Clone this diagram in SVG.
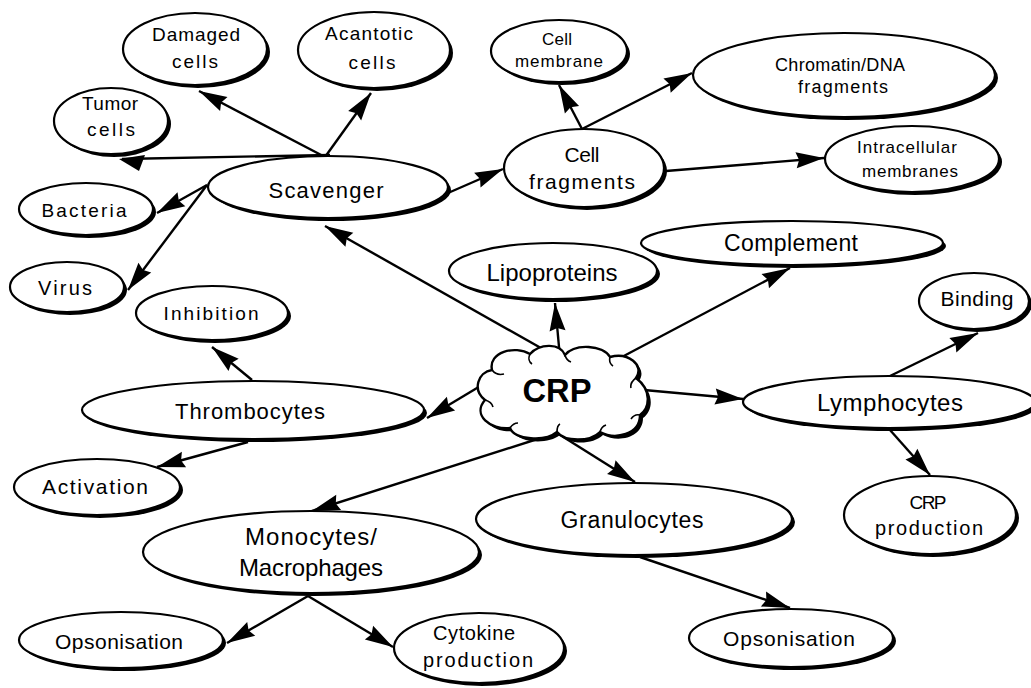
<svg xmlns="http://www.w3.org/2000/svg" width="1031" height="688" viewBox="0 0 1031 688">
<style>
.sh{fill:#000;stroke:none}
.nd{fill:#fff;stroke:#000;stroke-width:2.2}
.t{font-family:"Liberation Sans",Arial,Helvetica,sans-serif;fill:#000;text-anchor:middle}
.c{stroke:#000;stroke-width:2.4;fill:none;marker-end:url(#ah)}
.l{stroke:#000;stroke-width:2.4;fill:none}
</style>
<defs>
<marker id="ah" markerUnits="userSpaceOnUse" markerWidth="30" markerHeight="18" refX="28" refY="8" orient="auto" overflow="visible">
<path d="M0,0 L28,8 L0,16 L3,8 z" fill="#000"/>
</marker>
</defs>
<rect width="1031" height="688" fill="#fff"/>
<g id="connectors">
<line class="c" x1="325" y1="157" x2="199" y2="91"/>
<line class="c" x1="325" y1="157" x2="371" y2="93"/>
<line class="l" x1="330" y1="155" x2="122" y2="159"/>
<polygon points="119,159 145,155 139,171" fill="#000"/>
<line class="c" x1="207" y1="185" x2="157" y2="213"/>
<line class="c" x1="207" y1="185" x2="128" y2="290"/>
<line class="c" x1="448" y1="193" x2="503" y2="169"/>
<line class="c" x1="548" y1="352" x2="325" y2="226"/>
<line class="c" x1="560" y1="358" x2="555" y2="303"/>
<line class="c" x1="620" y1="358" x2="790" y2="268"/>
<line class="c" x1="582" y1="129" x2="559" y2="85"/>
<line class="c" x1="582" y1="129" x2="692" y2="73"/>
<line class="c" x1="666" y1="171" x2="824" y2="158"/>
<line class="c" x1="644" y1="390" x2="743" y2="399"/>
<line class="c" x1="890" y1="376" x2="978" y2="333"/>
<line class="c" x1="890" y1="430" x2="930" y2="475"/>
<line class="c" x1="482" y1="385" x2="427" y2="418"/>
<line class="c" x1="252" y1="380" x2="212" y2="347"/>
<line class="c" x1="248" y1="442" x2="157" y2="467"/>
<line class="c" x1="550" y1="435" x2="312" y2="511"/>
<line class="c" x1="557" y1="433" x2="635" y2="482"/>
<line class="c" x1="308" y1="596" x2="227" y2="643"/>
<line class="c" x1="308" y1="596" x2="393" y2="647"/>
<line class="c" x1="640" y1="557" x2="790" y2="608"/>
</g>
<g id="damaged"><ellipse class="sh" cx="198" cy="52" rx="72" ry="36"/><ellipse class="nd" cx="195" cy="49" rx="72" ry="36"/>
<text class="t" x="196" y="41" font-size="19" textLength="88" lengthAdjust="spacing">Damaged</text>
<text class="t" x="195" y="68" font-size="19" textLength="46" lengthAdjust="spacing">cells</text></g>
<g id="acantotic"><ellipse class="sh" cx="377" cy="53" rx="76" ry="38"/><ellipse class="nd" cx="374" cy="50" rx="76" ry="38"/>
<text class="t" x="369" y="40" font-size="19" textLength="88" lengthAdjust="spacing">Acantotic</text>
<text class="t" x="372" y="69" font-size="19" textLength="47" lengthAdjust="spacing">cells</text></g>
<g id="tumor"><ellipse class="sh" cx="114" cy="124" rx="57" ry="33"/><ellipse class="nd" cx="111" cy="121" rx="57" ry="33"/>
<text class="t" x="110" y="110" font-size="19" textLength="56" lengthAdjust="spacing">Tumor</text>
<text class="t" x="111" y="136" font-size="19" textLength="48" lengthAdjust="spacing">cells</text></g>
<g id="scavenger"><ellipse class="sh" cx="331" cy="190" rx="120" ry="31"/><ellipse class="nd" cx="328" cy="187" rx="120" ry="31"/>
<text class="t" x="326" y="198" font-size="22" textLength="115" lengthAdjust="spacing">Scavenger</text></g>
<g id="bacteria"><ellipse class="sh" cx="89" cy="212" rx="67" ry="26"/><ellipse class="nd" cx="86" cy="209" rx="67" ry="26"/>
<text class="t" x="84" y="217" font-size="19" textLength="85" lengthAdjust="spacing">Bacteria</text></g>
<g id="virus"><ellipse class="sh" cx="70" cy="290" rx="57" ry="25"/><ellipse class="nd" cx="67" cy="287" rx="57" ry="25"/>
<text class="t" x="65" y="295" font-size="20" textLength="54" lengthAdjust="spacing">Virus</text></g>
<g id="inhibition"><ellipse class="sh" cx="215" cy="316" rx="76" ry="27"/><ellipse class="nd" cx="212" cy="313" rx="76" ry="27"/>
<text class="t" x="211" y="320" font-size="19" textLength="95" lengthAdjust="spacing">Inhibition</text></g>
<g id="thrombocytes"><ellipse class="sh" cx="256" cy="413" rx="171" ry="29"/><ellipse class="nd" cx="253" cy="410" rx="171" ry="29"/>
<text class="t" x="250" y="419" font-size="22" textLength="150" lengthAdjust="spacing">Thrombocytes</text></g>
<g id="activation"><ellipse class="sh" cx="100" cy="490" rx="83" ry="28"/><ellipse class="nd" cx="97" cy="487" rx="83" ry="28"/>
<text class="t" x="95" y="494" font-size="21" textLength="106" lengthAdjust="spacing">Activation</text></g>
<g id="monocytes"><ellipse class="sh" cx="314" cy="555" rx="168" ry="41"/><ellipse class="nd" cx="311" cy="552" rx="168" ry="41"/>
<text class="t" x="311" y="545" font-size="24" textLength="132" lengthAdjust="spacing">Monocytes/</text>
<text class="t" x="311" y="576" font-size="24" textLength="144" lengthAdjust="spacing">Macrophages</text></g>
<g id="opsonisation-left"><ellipse class="sh" cx="124" cy="643" rx="102" ry="28"/><ellipse class="nd" cx="121" cy="640" rx="102" ry="28"/>
<text class="t" x="119" y="649" font-size="21" textLength="128" lengthAdjust="spacing">Opsonisation</text></g>
<g id="cytokine"><ellipse class="sh" cx="482" cy="651" rx="85" ry="35"/><ellipse class="nd" cx="479" cy="648" rx="85" ry="35"/>
<text class="t" x="474" y="640" font-size="20" textLength="82" lengthAdjust="spacing">Cytokine</text>
<text class="t" x="478" y="667" font-size="20" textLength="110" lengthAdjust="spacing">production</text></g>
<g id="cell-membrane"><ellipse class="sh" cx="562" cy="54" rx="68" ry="31"/><ellipse class="nd" cx="559" cy="51" rx="68" ry="31"/>
<text class="t" x="557" y="45" font-size="17" textLength="30" lengthAdjust="spacing">Cell</text>
<text class="t" x="559" y="67" font-size="17" textLength="88" lengthAdjust="spacing">membrane</text></g>
<g id="chromatin"><ellipse class="sh" cx="847" cy="78" rx="151" ry="42"/><ellipse class="nd" cx="844" cy="75" rx="151" ry="42"/>
<text class="t" x="840" y="71" font-size="18" textLength="130" lengthAdjust="spacing">Chromatin/DNA</text>
<text class="t" x="843" y="93" font-size="18" textLength="90" lengthAdjust="spacing">fragments</text></g>
<g id="cell-fragments"><ellipse class="sh" cx="587" cy="171" rx="80" ry="39"/><ellipse class="nd" cx="584" cy="168" rx="80" ry="39"/>
<text class="t" x="582" y="162" font-size="21" textLength="35" lengthAdjust="spacing">Cell</text>
<text class="t" x="582" y="189" font-size="21" textLength="106" lengthAdjust="spacing">fragments</text></g>
<g id="intracellular"><ellipse class="sh" cx="915" cy="162" rx="87" ry="33"/><ellipse class="nd" cx="912" cy="159" rx="87" ry="33"/>
<text class="t" x="907" y="153" font-size="17" textLength="100" lengthAdjust="spacing">Intracellular</text>
<text class="t" x="910" y="177" font-size="17" textLength="96" lengthAdjust="spacing">membranes</text></g>
<g id="complement"><ellipse class="sh" cx="795" cy="246" rx="151" ry="22"/><ellipse class="nd" cx="792" cy="243" rx="151" ry="22"/>
<text class="t" x="791" y="251" font-size="23" textLength="134" lengthAdjust="spacing">Complement</text></g>
<g id="lipoproteins"><ellipse class="sh" cx="556" cy="274" rx="104" ry="28"/><ellipse class="nd" cx="553" cy="271" rx="104" ry="28"/>
<text class="t" x="552" y="281" font-size="24" textLength="131" lengthAdjust="spacing">Lipoproteins</text></g>
<g id="binding"><ellipse class="sh" cx="977" cy="304" rx="55" ry="28"/><ellipse class="nd" cx="974" cy="301" rx="55" ry="28"/>
<text class="t" x="977" y="306" font-size="21" textLength="73" lengthAdjust="spacing">Binding</text></g>
<g id="lymphocytes"><ellipse class="sh" cx="892" cy="405" rx="146" ry="26"/><ellipse class="nd" cx="889" cy="402" rx="146" ry="26"/>
<text class="t" x="890" y="411" font-size="24" textLength="146" lengthAdjust="spacing">Lymphocytes</text></g>
<g id="crp-production"><ellipse class="sh" cx="933" cy="518" rx="86" ry="39"/><ellipse class="nd" cx="930" cy="515" rx="86" ry="39"/>
<text class="t" x="928" y="509" font-size="19" textLength="37" lengthAdjust="spacing">CRP</text>
<text class="t" x="929" y="535" font-size="20" textLength="108" lengthAdjust="spacing">production</text></g>
<g id="granulocytes"><ellipse class="sh" cx="637" cy="522" rx="158" ry="36"/><ellipse class="nd" cx="634" cy="519" rx="158" ry="36"/>
<text class="t" x="632" y="528" font-size="23" textLength="143" lengthAdjust="spacing">Granulocytes</text></g>
<g id="opsonisation-right"><ellipse class="sh" cx="794" cy="641" rx="102" ry="29"/><ellipse class="nd" cx="791" cy="638" rx="102" ry="29"/>
<text class="t" x="789" y="646" font-size="21" textLength="132" lengthAdjust="spacing">Opsonisation</text></g>
<g id="crp">
<path transform="translate(3,3)" fill="#000" d="M492,370 C488,352 515,345 530,354 C540,343 560,343 565,355 C575,343 603,345 610,357 C628,352 645,365 636,378 C652,390 650,408 640,415 C640,435 615,440 600,432 C590,442 565,442 557,432 C545,442 515,440 510,428 C490,430 472,415 485,400 C472,390 478,372 492,370 Z"/>
<path fill="#fff" stroke="#000" stroke-width="2.4" d="M492,370 C488,352 515,345 530,354 C540,343 560,343 565,355 C575,343 603,345 610,357 C628,352 645,365 636,378 C652,390 650,408 640,415 C640,435 615,440 600,432 C590,442 565,442 557,432 C545,442 515,440 510,428 C490,430 472,415 485,400 C472,390 478,372 492,370 Z"/>
<path fill="none" stroke="#000" stroke-width="1.6" d="M492,370 C495,374 500,375 504,374 M530,354 C528,358 529,362 532,364 M565,355 C566,359 568,361 571,362 M610,357 C609,361 610,364 613,366 M636,378 C632,381 630,384 631,388 M640,415 C636,414 633,416 631,419 M600,432 C601,428 603,426 606,425 M557,432 C557,428 558,425 560,424 M510,428 C512,425 514,423 518,423 M485,400 C489,401 492,403 493,407"/>
<text class="t" x="557" y="402" font-size="33" font-weight="bold" textLength="69" lengthAdjust="spacingAndGlyphs">CRP</text>
</g>
</svg>
